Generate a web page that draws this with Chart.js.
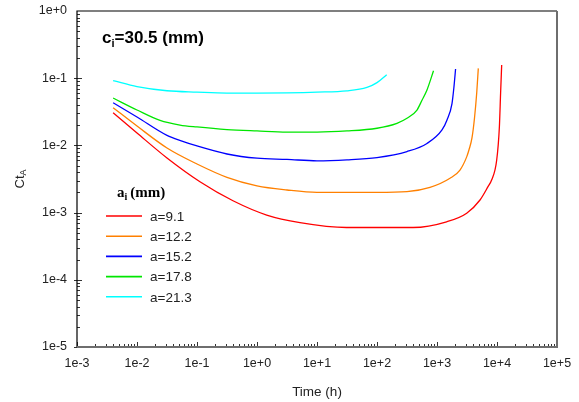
<!DOCTYPE html>
<html>
<head>
<meta charset="utf-8">
<script src="https://cdn.jsdelivr.net/npm/chart.js@4.4.1/dist/chart.umd.min.js"></script>
<style>
  html, body { margin: 0; padding: 0; background: #fff; }
  #wrap { width: 579px; height: 402px; }
</style>
</head>
<body>
<div id="wrap"><canvas id="myChart" width="579" height="402"></canvas></div>
<script>
// values (time in hours, Ct_A)
const seriesLabels = ['a=9.1', 'a=12.2', 'a=15.2', 'a=17.8', 'a=21.3']
const seriesColors = ['rgb(255,0,0)', 'rgb(255,128,0)', 'rgb(0,0,255)', 'rgb(0,230,0)', 'rgb(0,255,255)']

const timeA91 = [0.004, 0.01, 0.0316, 0.112, 0.398, 1.45, 5.2, 31, 400, 1445, 3126, 5210, 7080, 8130, 9886, 10960, 11480, 11970]
const ctA91   = [0.0307, 0.0153, 0.0065, 0.00288, 0.0015, 0.00092, 0.00071, 0.0006, 0.0006, 0.00073, 0.00098, 0.00154, 0.00243, 0.00305, 0.00607, 0.019, 0.0596, 0.157]

const timeA122 = [0.004, 0.01, 0.0316, 0.1, 0.316, 1, 3.16, 10, 31.6, 100, 316, 764, 1647, 2416, 3126, 3415, 3828, 4217, 4590, 4880]
const ctA122   = [0.0364, 0.0194, 0.00915, 0.00529, 0.00335, 0.0025, 0.00217, 0.002, 0.002, 0.002, 0.00205, 0.00237, 0.00324, 0.0043, 0.00675, 0.0086, 0.0129, 0.0256, 0.0603, 0.14]

const timeA152 = [0.004, 0.01, 0.0316, 0.0562, 0.1, 0.316, 1, 3.16, 10, 31.6, 100, 316, 681, 1212, 1468, 1778, 1919, 2040]
const ctA152   = [0.0432, 0.0265, 0.0141, 0.0116, 0.0098, 0.00745, 0.00645, 0.0062, 0.0059, 0.0061, 0.0066, 0.0081, 0.0107, 0.017, 0.0239, 0.042, 0.075, 0.137]

const timeA178 = [0.004, 0.01, 0.0242, 0.052, 0.1, 0.316, 1, 3.16, 10, 31.6, 100, 215, 316, 464, 562, 681, 875]
const ctA178   = [0.0507, 0.0336, 0.0235, 0.0201, 0.0188, 0.0172, 0.0164, 0.0158, 0.0158, 0.0164, 0.018, 0.0213, 0.0253, 0.0336, 0.047, 0.067, 0.129]

const timeA213 = [0.004, 0.01, 0.0316, 0.1, 0.316, 1, 3.16, 10, 31.6, 68, 100, 145]
const ctA213   = [0.092, 0.075, 0.065, 0.062, 0.060, 0.060, 0.0605, 0.062, 0.065, 0.073, 0.086, 0.113]

const xTickValues = [1e-3, 1e-2, 1e-1, 1e0, 1e1, 1e2, 1e3, 1e4, 1e5]
const yTickValues = [1e-5, 1e-4, 1e-3, 1e-2, 1e-1, 1e0]

const allTimes = [timeA91, timeA122, timeA152, timeA178, timeA213]
const allCt = [ctA91, ctA122, ctA152, ctA178, ctA213]

function toPoints(xs, ys) {
  return xs.map((x, i) => ({ x: x, y: ys[i] }))
}

function expLabel(v) {
  const e = Math.round(Math.log10(v))
  return '1e' + (e >= 0 ? '+' : '') + e
}

// frame, tick marks, y title, annotation and legend
const decorPlugin = {
  id: 'decor',
  afterDraw(chart) {
    const ctx = chart.ctx
    const a = chart.chartArea
    const xs = chart.scales.x, ys = chart.scales.y
    ctx.save()

    // ticks
    ctx.strokeStyle = '#333'
    ctx.lineWidth = 1
    ctx.beginPath()
    for (let d = -3; d < 5; d++) {
      for (let k = 1; k <= 9; k++) {
        const px = Math.round(xs.getPixelForValue(k * Math.pow(10, d))) + 0.5
        const len = k == 1 ? 5 : 3
        ctx.moveTo(px, a.bottom)
        ctx.lineTo(px, a.bottom - len)
      }
    }
    for (let d = -5; d < 0; d++) {
      for (let k = 1; k <= 9; k++) {
        const py = Math.round(ys.getPixelForValue(k * Math.pow(10, d))) + 0.5
        if (k == 1) {
          ctx.moveTo(a.left - 3, py)
          ctx.lineTo(a.left + 5, py)
        } else {
          ctx.moveTo(a.left, py)
          ctx.lineTo(a.left + 3, py)
        }
      }
    }
    ctx.stroke()

    // frame
    ctx.strokeStyle = '#000'
    ctx.lineWidth = 1.2
    ctx.beginPath()
    ctx.moveTo(a.left, a.bottom)
    ctx.lineTo(a.left, a.top)
    ctx.lineTo(a.right, a.top)
    ctx.stroke()
    ctx.strokeStyle = '#6e6e6e'
    ctx.lineWidth = 2
    ctx.beginPath()
    ctx.moveTo(a.right, a.top)
    ctx.lineTo(a.right, a.bottom)
    ctx.lineTo(a.left, a.bottom)
    ctx.stroke()

    // y title Ct with subscript A
    ctx.fillStyle = '#222'
    ctx.translate(20, (a.top + a.bottom) / 2)
    ctx.rotate(-Math.PI / 2)
    ctx.textBaseline = 'middle'
    ctx.font = '13px Arial, "Liberation Sans"'
    const w1 = ctx.measureText('Ct').width
    ctx.font = '9px Arial, "Liberation Sans"'
    const w2 = ctx.measureText('A').width
    const sx = -(w1 + w2) / 2
    ctx.font = '13px Arial, "Liberation Sans"'
    ctx.fillText('Ct', sx, 0)
    ctx.font = '9px Arial, "Liberation Sans"'
    ctx.fillText('A', sx + w1, 4)
    ctx.setTransform(1, 0, 0, 1, 0, 0)

    // annotation c_i = 30.5 (mm)
    ctx.fillStyle = '#000'
    ctx.textBaseline = 'alphabetic'
    ctx.font = 'bold 17px Arial, "Liberation Sans"'
    let tx = 102
    ctx.fillText('c', tx, 43)
    tx += ctx.measureText('c').width
    ctx.font = 'bold 11px Arial, "Liberation Sans"'
    ctx.fillText('i', tx, 47)
    tx += ctx.measureText('i').width
    ctx.font = 'bold 17px Arial, "Liberation Sans"'
    ctx.fillText('=30.5 (mm)', tx, 43)

    // legend
    ctx.font = 'bold 15px "Liberation Serif", "Times New Roman", serif'
    tx = 117
    ctx.fillText('a', tx, 197)
    tx += ctx.measureText('a').width
    ctx.font = 'bold 10px "Liberation Serif", "Times New Roman", serif'
    ctx.fillText('i', tx, 200)
    tx += ctx.measureText('i').width + 3
    ctx.font = 'bold 15px "Liberation Serif", "Times New Roman", serif'
    ctx.fillText('(mm)', tx, 197)

    ctx.font = '13.5px Arial, "Liberation Sans"'
    ctx.textBaseline = 'middle'
    chart.data.datasets.forEach((ds, i) => {
      const ly = 216 + i * 20.2
      ctx.strokeStyle = ds.borderColor
      ctx.lineWidth = 1.6
      ctx.beginPath()
      ctx.moveTo(106, ly)
      ctx.lineTo(142, ly)
      ctx.stroke()
      ctx.fillStyle = '#222'
      ctx.fillText(ds.label, 150, ly + 1)
    })
    ctx.restore()
  }
}

const datasets = seriesLabels.map((lab, i) => ({
  label: lab,
  data: toPoints(allTimes[i], allCt[i]),
  borderColor: seriesColors[i],
  backgroundColor: seriesColors[i],
  borderWidth: 1.3,
  pointRadius: 0,
  cubicInterpolationMode: 'monotone',
  fill: false
}))

const ctx = document.getElementById('myChart').getContext('2d')
const chart = new Chart(ctx, {
  type: 'line',
  data: { datasets: datasets },
  options: {
    responsive: false,
    animation: false,
    layout: { padding: { top: 11, right: 22, left: 0, bottom: 0 } },
    plugins: {
      legend: { display: false },
      tooltip: { enabled: false }
    },
    scales: {
      x: {
        type: 'logarithmic',
        min: 1e-3,
        max: 1e5,
        afterBuildTicks: s => { s.ticks = xTickValues.map(v => ({ value: v })) },
        afterFit: s => { s.height = 55 },
        grid: { display: false, drawTicks: true, tickLength: 9 },
        border: { display: false },
        ticks: {
          padding: 0,
          autoSkip: false,
          maxRotation: 0,
          color: '#222',
          font: { family: 'Arial, "Liberation Sans"', size: 12.5 },
          callback: v => expLabel(v)
        },
        title: {
          display: true,
          text: 'Time (h)',
          color: '#222',
          font: { family: 'Arial, "Liberation Sans"', size: 13.5 },
          padding: { top: 0, bottom: 2 }
        }
      },
      y: {
        type: 'logarithmic',
        min: 1e-5,
        max: 1,
        afterBuildTicks: s => { s.ticks = yTickValues.map(v => ({ value: v })) },
        afterFit: s => { s.width = 77 },
        grid: { display: false, drawTicks: true, tickLength: 10 },
        border: { display: false },
        ticks: {
          padding: 0,
          autoSkip: false,
          color: '#222',
          font: { family: 'Arial, "Liberation Sans"', size: 12.5 },
          callback: v => expLabel(v)
        }
      }
    }
  },
  plugins: [decorPlugin]
})
</script>
</body>
</html>
